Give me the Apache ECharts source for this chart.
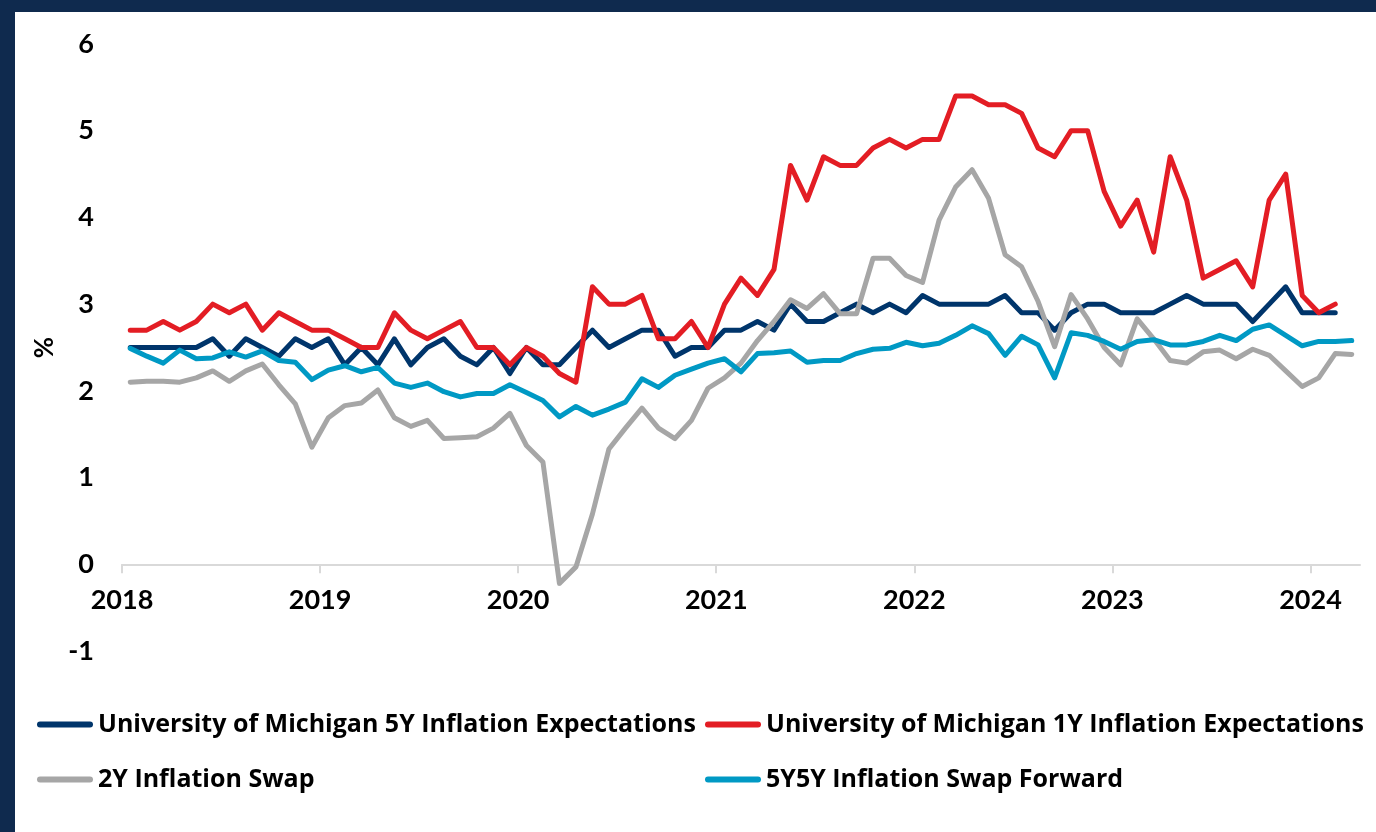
<!DOCTYPE html>
<html>
<head>
<meta charset="utf-8">
<script src="https://cdn.jsdelivr.net/npm/echarts@6/dist/echarts.min.js"></script>
<style>
  html, body { margin: 0; padding: 0; width: 1376px; height: 832px; background: #0f2a4e; overflow: hidden; }
  #chart { position: absolute; left: 15px; top: 12px; width: 1361px; height: 820px; background: #fff; }
</style>
</head>
<body>
<div id="chart"></div>
<script>
// monthly, Jan 2018 .. Mar 2024
const months = [];
for (let y = 2018; y <= 2024; y++) {
  for (let m = 1; m <= 12; m++) {
    if (y === 2024 && m > 3) break;
    months.push(y + "-" + String(m).padStart(2, "0"));
  }
}

const yearTicks = [2018, 2019, 2020, 2021, 2022, 2023, 2024];

const seriesNames = [
  "University of Michigan 5Y Inflation Expectations",
  "University of Michigan 1Y Inflation Expectations",
  "2Y Inflation Swap",
  "5Y5Y Inflation Swap Forward",
];

const umich5y = [
  2.5, 2.5, 2.5, 2.5, 2.5, 2.6, 2.4, 2.6, 2.5, 2.4, 2.6, 2.5,
  2.6, 2.3, 2.5, 2.3, 2.6, 2.3, 2.5, 2.6, 2.4, 2.3, 2.5, 2.2,
  2.5, 2.3, 2.3, 2.5, 2.7, 2.5, 2.6, 2.7, 2.7, 2.4, 2.5, 2.5,
  2.7, 2.7, 2.8, 2.7, 3.0, 2.8, 2.8, 2.9, 3.0, 2.9, 3.0, 2.9,
  3.1, 3.0, 3.0, 3.0, 3.0, 3.1, 2.9, 2.9, 2.7, 2.9, 3.0, 3.0,
  2.9, 2.9, 2.9, 3.0, 3.1, 3.0, 3.0, 3.0, 2.8, 3.0, 3.2, 2.9,
  2.9, 2.9,
];

const umich1y = [
  2.7, 2.7, 2.8, 2.7, 2.8, 3.0, 2.9, 3.0, 2.7, 2.9, 2.8, 2.7,
  2.7, 2.6, 2.5, 2.5, 2.9, 2.7, 2.6, 2.7, 2.8, 2.5, 2.5, 2.3,
  2.5, 2.4, 2.2, 2.1, 3.2, 3.0, 3.0, 3.1, 2.6, 2.6, 2.8, 2.5,
  3.0, 3.3, 3.1, 3.4, 4.6, 4.2, 4.7, 4.6, 4.6, 4.8, 4.9, 4.8,
  4.9, 4.9, 5.4, 5.4, 5.3, 5.3, 5.2, 4.8, 4.7, 5.0, 5.0, 4.3,
  3.9, 4.2, 3.6, 4.7, 4.2, 3.3, 3.4, 3.5, 3.2, 4.2, 4.5, 3.1,
  2.9, 3.0,
];

const swap2y = [
  2.10, 2.11, 2.11, 2.10, 2.15, 2.23, 2.11, 2.23, 2.31, 2.07, 1.85, 1.35,
  1.69, 1.83, 1.86, 2.01, 1.69, 1.59, 1.66, 1.45, 1.46, 1.47, 1.57, 1.74,
  1.37, 1.18, -0.22, -0.03, 0.58, 1.33, 1.57, 1.80, 1.57, 1.45, 1.66, 2.03,
  2.15, 2.32, 2.58, 2.80, 3.05, 2.95, 3.12, 2.89, 2.89, 3.53, 3.53, 3.33,
  3.25, 3.97, 4.35, 4.55, 4.22, 3.57, 3.43, 3.03, 2.51, 3.11, 2.83, 2.50,
  2.30, 2.83, 2.60, 2.35, 2.32, 2.45, 2.47, 2.37, 2.48, 2.41, 2.23, 2.05,
  2.15, 2.43, 2.42,
];

const swap5y5y = [
  2.49, 2.40, 2.32, 2.47, 2.37, 2.38, 2.45, 2.39, 2.46, 2.35, 2.33, 2.13,
  2.24, 2.29, 2.22, 2.27, 2.09, 2.04, 2.09, 1.99, 1.93, 1.97, 1.97, 2.07,
  1.98, 1.89, 1.70, 1.82, 1.72, 1.79, 1.87, 2.14, 2.04, 2.18, 2.25, 2.32,
  2.37, 2.22, 2.43, 2.44, 2.46, 2.33, 2.35, 2.35, 2.43, 2.48, 2.49, 2.56,
  2.52, 2.55, 2.64, 2.75, 2.66, 2.41, 2.63, 2.53, 2.15, 2.67, 2.64, 2.57,
  2.48, 2.57, 2.59, 2.53, 2.53, 2.57, 2.64, 2.58, 2.71, 2.76, 2.64, 2.52,
  2.57, 2.57, 2.58,
];

const colors = ["#00356b", "#e31d24", "#a6a6a6", "#0099c4"];
const font = "Lato";
const legendFont = "Open Sans";

// month label -> decimal year at mid-month
const toYear = (label) => {
  const [y, m] = label.split("-").map(Number);
  return y + (m - 0.5) / 12;
};
const pairs = (values) => values.map((v, i) => [toYear(months[i]), v]);

const chart = echarts.init(document.getElementById("chart"));

const pill = "path://M3,0 H53 A3,3 0 0 1 53,6 H3 A3,3 0 0 1 3,0 Z";
const legendBase = {
  orient: "vertical",
  top: 700,
  padding: 0,
  icon: pill,
  itemWidth: 56,
  itemHeight: 6,
  itemGap: 30,
  selectedMode: false,
  textStyle: {
    color: "#000",
    fontFamily: legendFont,
    fontWeight: "bold",
    fontSize: 25,
    lineHeight: 25,
  },
};

const option = {
  animation: false,
  backgroundColor: "#fff",
  color: colors,
  grid: { left: 107, right: 16, top: 32, bottom: 181, containLabel: false },
  legend: [
    { ...legendBase, left: 22, data: [seriesNames[0], seriesNames[2]] },
    { ...legendBase, left: 690, data: [seriesNames[1], seriesNames[3]] },
  ],
  xAxis: {
    type: "value",
    min: 2018,
    max: 2024.25,
    interval: 1,
    splitLine: { show: false },
    axisLine: { onZero: true, lineStyle: { color: "#d9d9d9", width: 2 } },
    axisTick: {
      show: true,
      length: 9,
      customValues: yearTicks,
      lineStyle: { color: "#d9d9d9", width: 2 },
    },
    axisLabel: {
      customValues: yearTicks,
      formatter: (v) => String(v),
      margin: -64,
      color: "#000",
      fontFamily: font,
      fontWeight: "bold",
      fontSize: 27,
    },
  },
  yAxis: {
    type: "value",
    min: -1,
    max: 6,
    interval: 1,
    name: "%",
    nameLocation: "middle",
    nameGap: 60,
    nameRotate: 90,
    nameTextStyle: { color: "#000", fontFamily: font, fontWeight: "bold", fontSize: 26 },
    splitLine: { show: false },
    axisLine: { show: false },
    axisTick: { show: false },
    axisLabel: {
      margin: 28,
      color: "#000",
      fontFamily: font,
      fontWeight: "bold",
      fontSize: 27,
    },
  },
  series: [umich5y, umich1y, swap2y, swap5y5y].map((vals, k) => ({
    name: seriesNames[k],
    type: "line",
    symbol: "none",
    data: pairs(vals),
    lineStyle: { width: 5, color: colors[k], cap: "round", join: "round" },
    itemStyle: { color: colors[k] },
  })),
};

chart.setOption(option);
</script>
</body>
</html>
